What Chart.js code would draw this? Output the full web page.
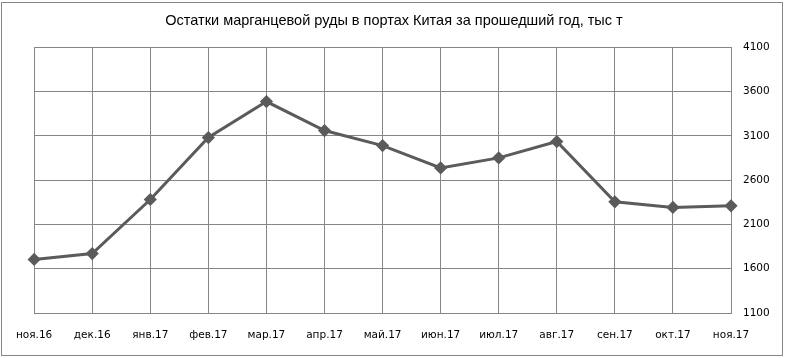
<!DOCTYPE html>
<html><head><meta charset="utf-8">
<script src="https://cdn.jsdelivr.net/npm/chart.js@4.4.1/dist/chart.umd.min.js"></script>
<style>html,body{margin:0;padding:0;background:#fff}#wrap{width:788px;height:358px;position:relative}</style>
</head><body><div id="wrap"><canvas id="c" width="788" height="358"></canvas></div>
<script>
const chartTitle = "Остатки марганцевой руды в портах Китая за прошедший год, тыс т";
const categories = ["ноя.16","дек.16","янв.17","фев.17","мар.17","апр.17","май.17","июн.17","июл.17","авг.17","сен.17","окт.17","ноя.17"];
const stockValues = [1705, 1772, 2382, 3082, 3488, 3161, 2991, 2739, 2852, 3037, 2356, 2292, 2311];
const yTicks = [1100, 1600, 2100, 2600, 3100, 3600, 4100];

const borderPlugin = {
  id: 'outerBorder',
  afterDraw(chart) {
    const ctx = chart.ctx;
    ctx.save();
    ctx.strokeStyle = '#868686';
    ctx.lineWidth = 1;
    ctx.strokeRect(1.5, 2.5, 781, 353);
    ctx.restore();
  }
};

new Chart(document.getElementById('c'), {
  type: 'line',
  data: {
    labels: categories,
    datasets: [{
      data: stockValues,
      yAxisID: 'y',
      borderColor: '#5b5b5b',
      backgroundColor: '#5b5b5b',
      borderWidth: 3,
      pointStyle: 'rectRot',
      pointRadius: 4.5,
      pointHoverRadius: 4.5,
      tension: 0,
      fill: false
    }]
  },
  options: {
    responsive: false,
    animation: false,
    devicePixelRatio: 1,
    layout: { padding: 0 },
    plugins: {
      legend: { display: false },
      tooltip: { enabled: false },
      title: {
        display: true,
        text: chartTitle,
        color: '#000',
        font: { family: 'Liberation Sans', size: 14.5, weight: 'normal' },
        padding: { top: 12, bottom: 18 }
      }
    },
    scales: {
      x: {
        offset: false,
        grid: { color: '#868686', lineWidth: 1, drawTicks: false },
        border: { color: '#868686' },
        ticks: { color: '#000', font: { family: 'DejaVu Sans', size: 10.5 }, padding: 16, maxRotation: 0, autoSkip: false },
        afterFit(s) { s.height = 45; }
      },
      y: {
        position: 'right',
        min: 1100, max: 4100,
        afterBuildTicks(s) { s.ticks = yTicks.map(v => ({ value: v })); },
        grid: { color: '#868686', lineWidth: 1, drawTicks: false },
        border: { color: '#868686' },
        ticks: { color: '#000', font: { family: 'DejaVu Sans', size: 10.5 }, padding: 12, callback: v => String(v) },
        afterFit(s) { s.width = 57; }
      },
      yLeft: {
        position: 'left',
        min: 1100, max: 4100,
        grid: { display: false, drawTicks: false },
        border: { display: false },
        ticks: { display: false },
        afterFit(s) { s.width = 34; }
      }
    }
  },
  plugins: [borderPlugin]
});
</script></body></html>
